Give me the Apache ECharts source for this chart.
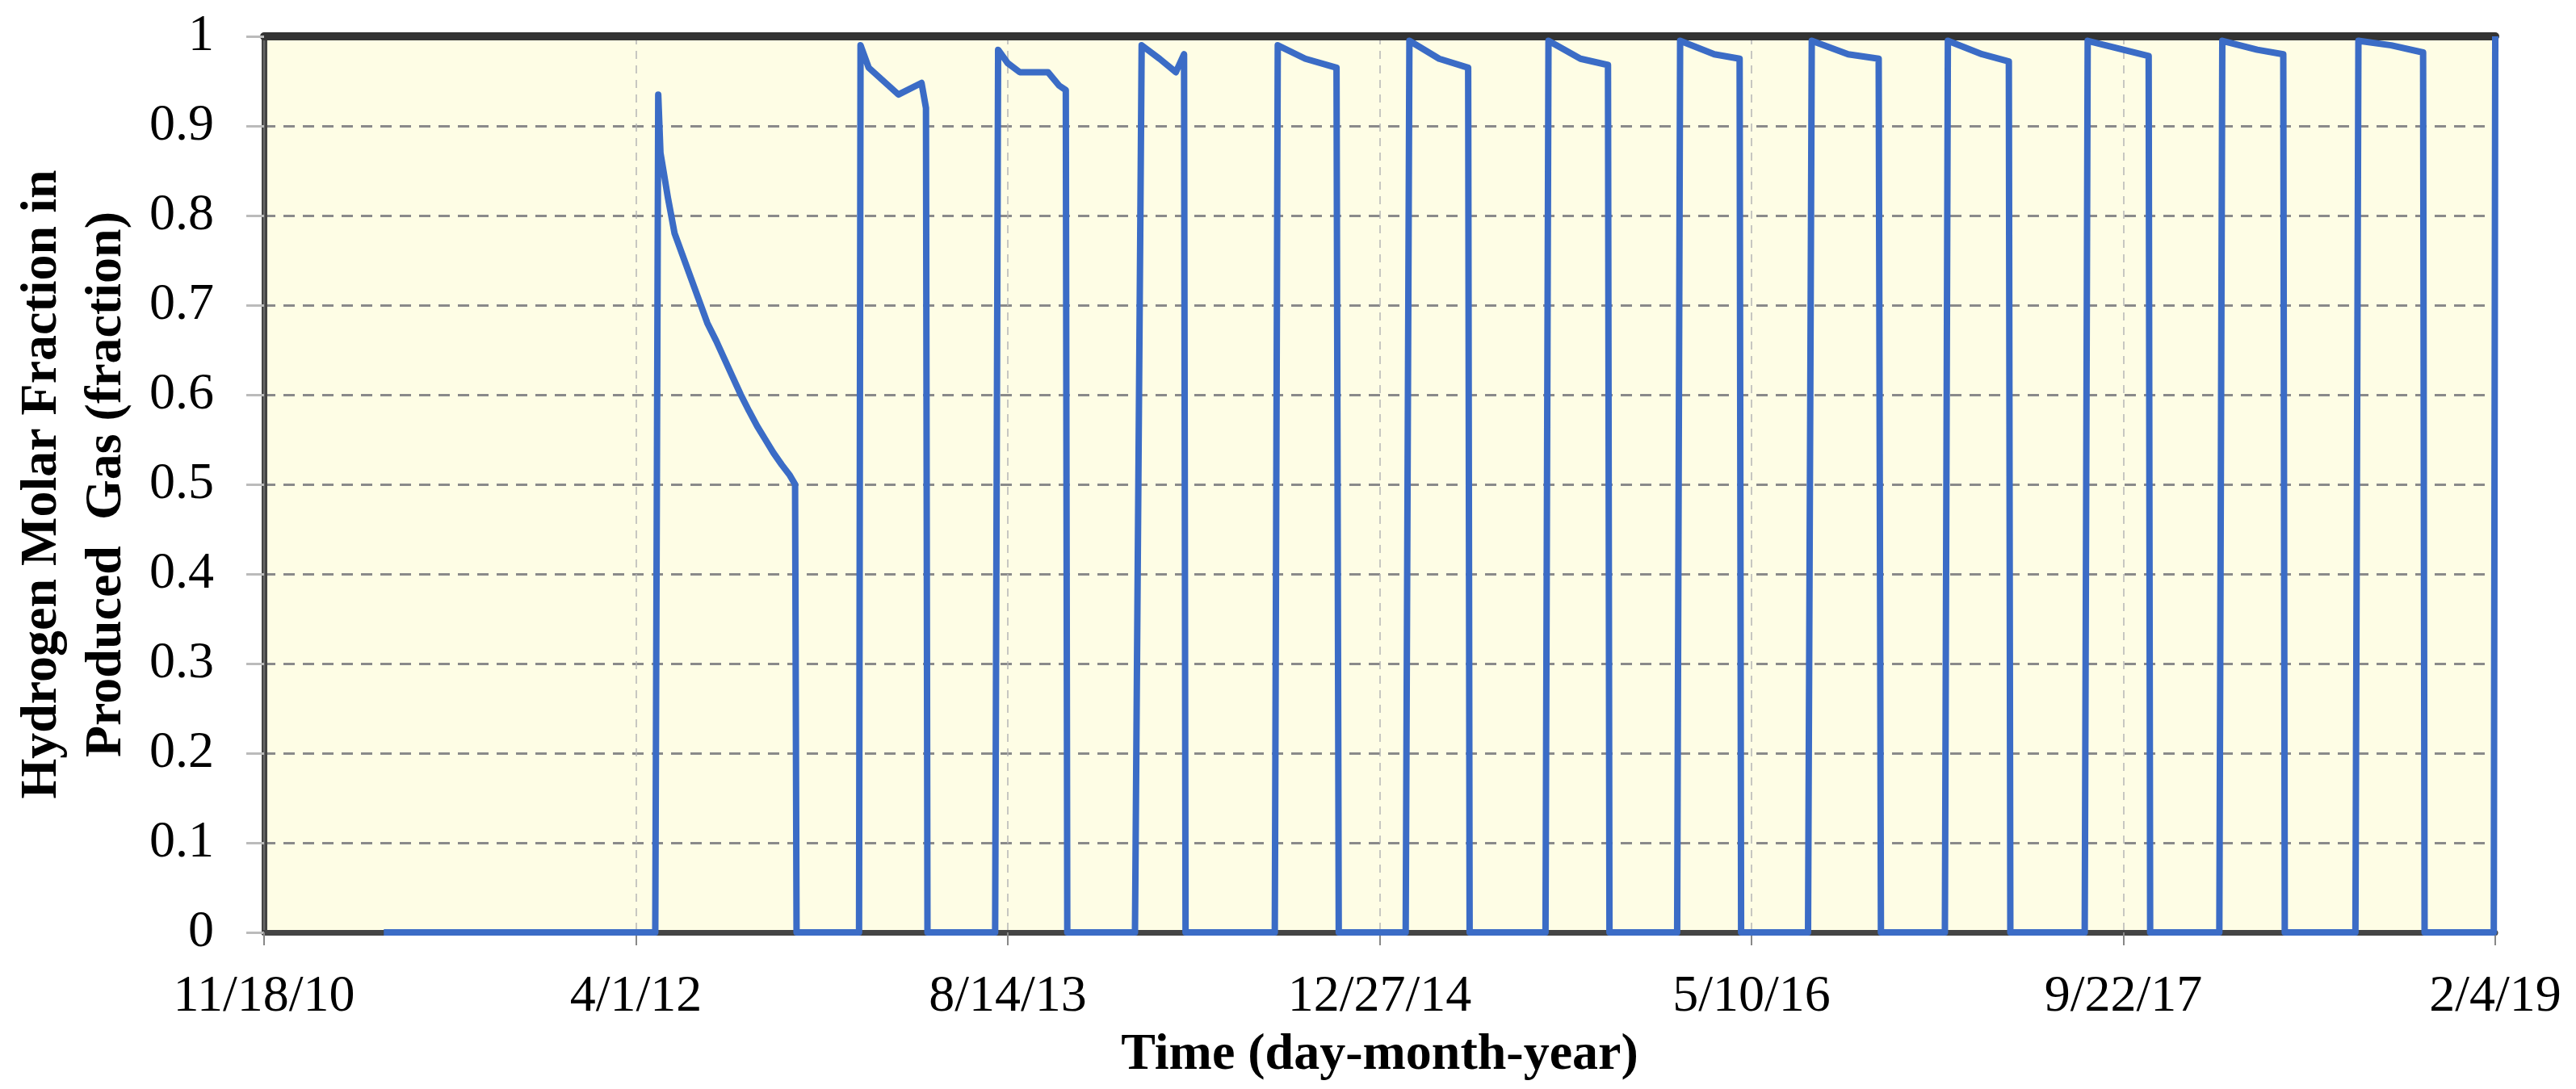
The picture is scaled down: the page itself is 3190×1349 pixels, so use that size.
<!DOCTYPE html>
<html>
<head>
<meta charset="utf-8">
<script src="https://cdn.jsdelivr.net/npm/echarts@6/dist/echarts.min.js"></script>
<style>
html,body{margin:0;padding:0;background:#fff;}
#chart{width:3190px;height:1349px;}
</style>
</head>
<body>
<div id="chart"></div>
<script>
// days counted from 11/18/10 (the axis start)
var days = [161, 526, 530, 533, 537, 539, 543, 552, 563, 574, 585, 596, 608, 619, 630, 641, 652, 663, 674, 685, 696, 707, 714, 716,
    800, 802, 813, 853, 884, 890, 892,
    983, 987, 1000, 1016, 1054, 1069, 1078, 1080,
    1171, 1180, 1204, 1226, 1237, 1239,
    1359, 1363, 1400, 1442, 1445,
    1535, 1540, 1580, 1619, 1621,
    1723, 1727, 1770, 1807, 1809,
    1900, 1904, 1950, 1984, 1986,
    2076, 2081, 2130, 2171, 2174,
    2260, 2264, 2310, 2346, 2348,
    2448, 2452, 2500, 2534, 2536,
    2629, 2633, 2680, 2715, 2717,
    2812, 2816, 2860, 2903, 2905,
    2998, 3000];
var h2Fraction = [0, 0, 0.935, 0.87, 0.85, 0.84, 0.82, 0.78, 0.755, 0.73, 0.705, 0.68, 0.66, 0.64, 0.62, 0.60, 0.582, 0.565, 0.55, 0.535, 0.522, 0.51, 0.5, 0,
    0, 0.99, 0.965, 0.935, 0.948, 0.92, 0,
    0, 0.985, 0.97, 0.96, 0.96, 0.945, 0.94, 0,
    0, 0.99, 0.975, 0.96, 0.98, 0,
    0, 0.99, 0.975, 0.965, 0,
    0, 0.995, 0.975, 0.965, 0,
    0, 0.995, 0.975, 0.968, 0,
    0, 0.995, 0.98, 0.975, 0,
    0, 0.995, 0.98, 0.975, 0,
    0, 0.995, 0.98, 0.972, 0,
    0, 0.995, 0.985, 0.978, 0,
    0, 0.995, 0.985, 0.98, 0,
    0, 0.995, 0.99, 0.982, 0,
    0, 1.0];
var xTickDays = [0, 500, 1000, 1500, 2000, 2500, 3000];
var startDate = Date.UTC(2010, 10, 18);

var seriesData = [];
for (var i = 0; i < days.length; i++) {
    seriesData.push([days[i], h2Fraction[i]]);
}

function dayLabel(d) {
    var dt = new Date(startDate + d * 86400000);
    return (dt.getUTCMonth() + 1) + '/' + dt.getUTCDate() + '/' + String(dt.getUTCFullYear()).slice(2);
}

var chart = echarts.init(document.getElementById('chart'));
var font = 'Liberation Serif';
var option = {
    animation: false,
    grid: {left: 327, right: 100, top: 45, bottom: 194, backgroundColor: '#FEFDE5', show: true, borderWidth: 0,
        containLabel: false, outerBoundsMode: 'none'},
    xAxis: [{
        type: 'value', min: 0, max: 3000, interval: 500,
        name: 'Time (day-month-year)', nameLocation: 'middle', nameGap: 120,
        nameTextStyle: {fontFamily: font, fontWeight: 'bold', fontSize: 64, color: '#000'},
        axisLine: {lineStyle: {color: '#444', width: 7}},
        axisTick: {show: true, length: 16, lineStyle: {color: '#888', width: 2}},
        axisLabel: {fontFamily: font, fontSize: 64, color: '#000', margin: 48,
            formatter: function (v) { return xTickDays.indexOf(v) >= 0 ? dayLabel(v) : ''; }},
        splitLine: {show: true, lineStyle: {color: '#b5b5b5', width: 1.5, type: [10, 8]}}
    }, {
        type: 'value', position: 'top', min: 0, max: 3000,
        axisLine: {show: true, onZero: false, lineStyle: {color: '#333', width: 10}},
        axisTick: {show: false}, axisLabel: {show: false}, splitLine: {show: false}
    }],
    yAxis: [{
        type: 'value', min: 0, max: 1, interval: 0.1,
        name: 'Hydrogen Molar Fraction in\nProduced  Gas (fraction)', nameLocation: 'middle', nameGap: 155,
        nameTextStyle: {fontFamily: font, fontWeight: 'bold', fontSize: 64, color: '#000', lineHeight: 80},
        axisLine: {show: true, lineStyle: {color: '#444', width: 7}},
        axisTick: {show: true, length: 22, inside: false, lineStyle: {color: '#bbb', width: 3}},
        axisLabel: {fontFamily: font, fontSize: 64, color: '#000', margin: 62,
            formatter: function (v) { return String(Math.round(v * 10) / 10); }},
        splitLine: {show: true, lineStyle: {color: '#8a8a8a', width: 3, type: [14, 10]}}
    }, {
        type: 'value', position: 'right', min: 0, max: 1,
        axisLine: {show: true, lineStyle: {color: '#666', width: 2}},
        axisTick: {show: false}, axisLabel: {show: false}, splitLine: {show: false}
    }],
    series: [{
        type: 'line', data: seriesData, showSymbol: false,
        lineStyle: {color: '#3B6CC6', width: 8, join: 'round'},
        clip: false, z: 5
    }]
};
chart.setOption(option);
</script>
</body>
</html>
